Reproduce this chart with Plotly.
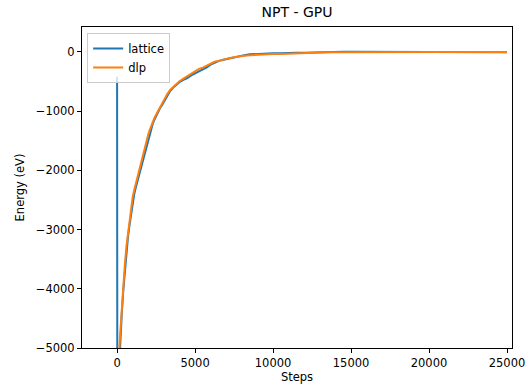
import plotly.graph_objects as go

# Energy traces over the NPT run (steps vs. eV)
lattice_steps = [0, 20, 100, 200, 300, 400, 500, 600, 700, 800, 900, 1000, 1100, 1200,
                 1300, 1400, 1500, 1600, 1700, 1800, 1900, 2000, 2100, 2200, 2300, 2400,
                 2500, 2600, 2750, 2900, 3050, 3200, 3400, 3600, 3800, 4000, 4250, 4500,
                 4750, 5000, 5250, 5500, 5750, 6000, 6250, 6500, 6750, 7000, 7250, 7500,
                 7750, 8000, 8500, 9000, 9500, 10000, 10500, 11000, 11500, 12000, 12500,
                 13000, 13500, 14000, 14500, 15000, 16000, 17000, 18000, 19000, 20000,
                 21000, 22000, 23000, 24000, 25000]
lattice_energy = [-420, -7900, -5500, -4880, -4420, -4020, -3680, -3370, -3120, -2920,
                  -2720, -2540, -2400, -2290, -2190, -2100, -1990, -1880, -1780, -1670,
                  -1560, -1460, -1360, -1280, -1200, -1140, -1080, -1030, -950, -890,
                  -820, -740, -660, -600, -550, -510, -470, -440, -395, -360, -330, -300,
                  -260, -215, -180, -155, -135, -118, -102, -90, -78, -62, -40, -30, -20,
                  -22, -20, -22, -15, -12, -8, 5, 8, 6, 4, 3, 2, 0, -1, 1, 0, -1, 0, 1,
                  -1, -6]

dlp_steps = [0, 100, 200, 300, 400, 500, 600, 700, 800, 900, 1000, 1100, 1200, 1300,
             1400, 1500, 1600, 1700, 1800, 1900, 2000, 2100, 2200, 2300, 2400, 2500,
             2600, 2750, 2900, 3050, 3200, 3400, 3600, 3800, 4000, 4250, 4500, 4750,
             5000, 5250, 5500, 5750, 6000, 6250, 6500, 6750, 7000, 7250, 7500, 7750,
             8000, 8500, 9000, 9500, 10000, 10500, 11000, 11500, 12000, 12500, 13000,
             13500, 14000, 14500, 15000, 16000, 17000, 18000, 19000, 20000, 21000,
             22000, 23000, 24000, 25000]
dlp_energy = [-7200, -5250, -4760, -4300, -3920, -3580, -3280, -3050, -2840, -2640,
              -2450, -2330, -2220, -2120, -2030, -1910, -1800, -1700, -1590, -1490,
              -1390, -1310, -1230, -1160, -1110, -1060, -1010, -930, -870, -800, -720,
              -640, -590, -540, -495, -450, -410, -360, -320, -285, -265, -235, -200,
              -165, -150, -130, -112, -100, -88, -76, -66, -55, -46, -40, -36, -32,
              -26, -22, -16, -12, -9, -6, -4, -3, -1, 0, -2, 0, -1, 0, -1, 0, -1, 0, -1]

x_ticks = [0, 5000, 10000, 15000, 20000, 25000]
x_tick_text = ["0", "5000", "10000", "15000", "20000", "25000"]
y_ticks = [0, -1000, -2000, -3000, -4000, -5000]
y_tick_text = ["0", "\u22121000", "\u22122000", "\u22123000", "\u22124000", "\u22125000"]

FONT = "DejaVu Sans"

fig = go.Figure()
fig.add_trace(go.Scatter(x=lattice_steps, y=lattice_energy, mode="lines", name="lattice",
                         line=dict(color="#1f77b4", width=2)))
fig.add_trace(go.Scatter(x=dlp_steps, y=dlp_energy, mode="lines", name="dlp",
                         line=dict(color="#ff7f0e", width=2)))

axis_common = dict(showgrid=False, zeroline=False, showline=True, linecolor="black",
                   linewidth=1, mirror=True, ticks="outside", ticklen=4, tickwidth=1,
                   tickcolor="black", automargin=False,
                   tickfont=dict(family=FONT, size=11.5, color="black"))

fig.update_layout(
    width=528, height=390,
    margin=dict(l=82, r=16, t=27, b=42),
    paper_bgcolor="white", plot_bgcolor="white",
    font=dict(family=FONT, color="black"),
    title=dict(text="NPT - GPU", x=0.5625, xanchor="center", y=0.97, yanchor="middle",
               font=dict(family=FONT, size=14, color="black")),
    xaxis=dict(range=[-2250, 25320], tickvals=x_ticks, ticktext=x_tick_text,
               title=dict(text="Steps", font=dict(family=FONT, size=11.5), standoff=4),
               **axis_common),
    yaxis=dict(range=[-5000, 422], tickvals=y_ticks, ticktext=y_tick_text,
               title=dict(text="Energy (eV)", font=dict(family=FONT, size=11.5), standoff=8),
               **axis_common),
    legend=dict(x=0.012, y=0.981, xanchor="left", yanchor="top",
                bgcolor="rgba(255,255,255,0.8)", bordercolor="#cccccc", borderwidth=1,
                font=dict(family=FONT, size=11.5, color="black"),
                itemwidth=30, tracegroupgap=0),
    showlegend=True,
)

fig.write_html("out.html")
